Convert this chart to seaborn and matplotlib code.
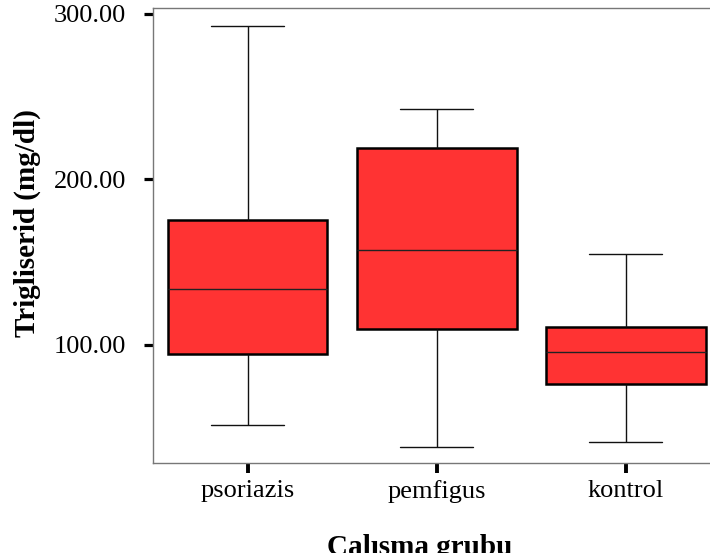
import numpy as np
import pandas as pd
import matplotlib
matplotlib.use("Agg")
import matplotlib.pyplot as plt
import seaborn as sns

# Five-number summaries of triglyceride levels per study group
groups = ["psoriazis", "pemfigus", "kontrol"]
minimum = [51.4, 38.0, 41.3]
q1 = [94.5, 109.6, 76.2]
median = [133.5, 157.2, 95.3]
q3 = [175.4, 218.8, 110.5]
maximum = [292.9, 242.3, 154.6]

y_ticks = [100, 200, 300]

# Long-format table: five values per group reproduce the quartiles exactly
rows = []
for g, a, b, c, d, e in zip(groups, minimum, q1, median, q3, maximum):
    for v in (a, b, c, d, e):
        rows.append({"Calısma grubu": g, "Trigliserid (mg/dl)": v})
df = pd.DataFrame(rows)

sns.set_theme(style="white")
plt.rcParams["font.family"] = ["Liberation Serif", "DejaVu Serif"]

fig = plt.figure(figsize=(7.10, 5.53), dpi=100)
ax = fig.add_axes([153 / 710, 1 - 462.7 / 553, (720.5 - 153) / 710, (462.7 - 8.3) / 553])

sns.boxplot(
    data=df, x="Calısma grubu", y="Trigliserid (mg/dl)", order=groups,
    whis=np.inf, width=0.844, color="#FF3333", saturation=1,
    linecolor="black", linewidth=1.0, capwidths=0.386,
    boxprops={"linewidth": 1.8, "edgecolor": "black"},
    whiskerprops={"linewidth": 1.0, "color": "#111111"},
    capprops={"linewidth": 1.0, "color": "#111111"},
    medianprops={"linewidth": 1.0, "color": "#222222"},
    ax=ax,
)

ax.set_xlim(-0.5, 2.5)
ax.set_ylim(28.6, 303.4)
ax.set_yticks(y_ticks)
ax.set_yticklabels([f"{t:.2f}" for t in y_ticks])

for s in ax.spines.values():
    s.set_visible(True)
    s.set_color("#777777")
    s.set_linewidth(1.0)

ax.tick_params(axis="y", direction="out", length=6.8, width=2.3, color="black",
               pad=12.5, labelsize=19, labelcolor="black", left=True)
ax.tick_params(axis="x", direction="out", length=7.2, width=2.8, color="black",
               pad=5.0, labelsize=19, labelcolor="black", bottom=True)

ax.set_ylabel("Trigliserid (mg/dl)", fontsize=21, fontweight="bold", color="black")
ax.set_xlabel("Calısma grubu", fontsize=21, fontweight="bold", color="black")
ax.yaxis.set_label_coords((41.3 - 153) / 567.5, (462.7 - 223) / 454.4)
ax.xaxis.set_label_coords((420 - 153) / 567.5, (462.7 - 534) / 454.4)

fig.savefig("out.png", dpi=100)
